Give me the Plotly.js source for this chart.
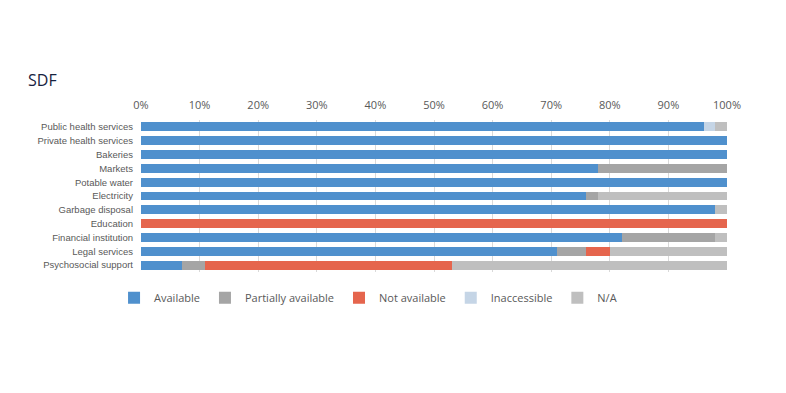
<!DOCTYPE html>
<html>
<head>
<meta charset="utf-8">
<script src="https://cdn.plot.ly/plotly-3.0.1.min.js"></script>
<style>html,body{margin:0;padding:0;background:#fff}#chart{width:786px;height:393px}</style>
</head>
<body>
<div id="chart"></div>
<script>
const categories = ["Public health services","Private health services","Bakeries","Markets","Potable water","Electricity","Garbage disposal","Education","Financial institution","Legal services","Psychosocial support"];
const available          = [96, 100, 100, 78, 100, 76, 98,   0, 82, 71,  7];
const partiallyAvailable = [ 0,   0,   0, 22,   0,  2,  0,   0, 16,  5,  4];
const notAvailable       = [ 0,   0,   0,  0,   0,  0,  0, 100,  0,  4, 42];
const inaccessible       = [ 2,   0,   0,  0,   0,  0,  0,   0,  0,  0,  0];
const notApplicable      = [ 2,   0,   0,  0,   0, 22,  2,   0,  2, 20, 47];
const seriesNames = ["Available","Partially available","Not available","Inaccessible","N/A"];
const seriesColors = ["#4F90CD","#A5A5A5","#E5654D","#C5D5E6","#BFBFBF"];
const seriesValues = [available, partiallyAvailable, notAvailable, inaccessible, notApplicable];

const traces = seriesValues.map((vals, i) => ({
  type: "bar",
  orientation: "h",
  name: seriesNames[i],
  y: categories,
  x: vals.map(v => v / 100),
  marker: {color: seriesColors[i], line: {width: 0}},
  hoverinfo: "name+x"
}));

const layout = {
  width: 786, height: 393,
  margin: {l: 141, r: 59, t: 120, b: 121},
  paper_bgcolor: "#fff", plot_bgcolor: "#fff",
  barmode: "stack",
  bargap: 0.35,
  showlegend: true,
  title: {text: "SDF", x: 28/786, xanchor: "left", y: 1 - 80/393, yanchor: "middle",
          font: {family: "Open Sans, Liberation Sans, sans-serif", size: 16, color: "#17233F"}},
  xaxis: {
    side: "top", range: [0, 1], tickformat: ".0%", dtick: 0.1,
    showgrid: true, gridcolor: "#D9D9D9", gridwidth: 1, zeroline: false,
    showline: false, ticks: "", ticklabelstandoff: 8,
    tickfont: {family: "Open Sans, Liberation Sans, sans-serif", size: 11, color: "#595959"},
    fixedrange: true
  },
  yaxis: {
    autorange: "reversed", ticks: "", showline: false, showgrid: false,
    tickfont: {family: "Liberation Sans, Arial, sans-serif", size: 9.5, color: "#595959"},
    ticklabelstandoff: 7, fixedrange: true
  },
  legend: {
    orientation: "h", x: -0.046, xref: "paper", y: -0.17, yanchor: "middle", xanchor: "left",
    font: {family: "Open Sans, Liberation Sans, sans-serif", size: 11, color: "#595959"},
    itemwidth: 30, traceorder: "normal"
  }
};

Plotly.newPlot("chart", traces, layout, {displayModeBar: false, staticPlot: true});
</script>
</body>
</html>
